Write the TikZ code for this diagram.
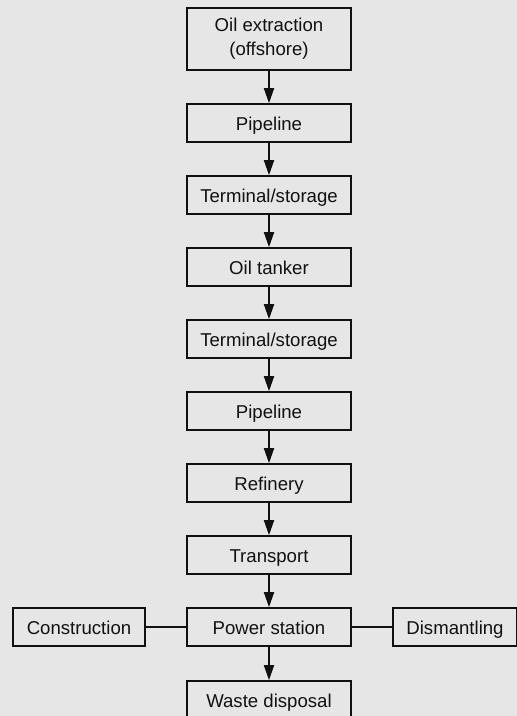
\documentclass[tikz,border=0pt]{standalone}
\usepackage{fontspec}
\setmainfont{Liberation Sans}
\usetikzlibrary{arrows.meta}
\definecolor{bg}{HTML}{E6E6E6}
\definecolor{ink}{HTML}{111111}
\begin{document}
\begin{tikzpicture}[x=1pt,y=-1pt,
  base/.style={draw=ink,line width=1.6pt,fill=bg,minimum width=164pt,minimum height=38pt,inner sep=0pt,
    font=\fontsize{18.6pt}{24pt}\selectfont,text=ink,align=center,anchor=center},
  box/.style={base,text height=17pt,text depth=3pt},
  flow/.style={draw=ink,line width=1.6pt,-{Triangle[width=10pt,length=15pt]}},
  link/.style={draw=ink,line width=1.6pt}]
\fill[bg] (0,0) rectangle (517,716);
\useasboundingbox (0,0) rectangle (517,716);
\node[base,minimum height=62pt] (ext) at (269,39) {Oil extraction\\(offshore)};
\node[box] (pipe1) at (269,123) {Pipeline};
\node[box] (term1) at (269,195) {Terminal/storage};
\node[box] (tank) at (269,267) {Oil tanker};
\node[box] (term2) at (269,339) {Terminal/storage};
\node[box] (pipe2) at (269,411) {Pipeline};
\node[box] (ref) at (269,483) {Refinery};
\node[box] (trans) at (269,555) {Transport};
\node[box] (power) at (269,627) {Power station};
\node[box] (waste) at (269,700) {Waste disposal};
\node[box,minimum width=132pt] (cons) at (79,627) {Construction};
\node[box,minimum width=124pt] (dism) at (455,627) {Dismantling};
\draw[flow] (ext) -- (pipe1);
\draw[flow] (pipe1) -- (term1);
\draw[flow] (term1) -- (tank);
\draw[flow] (tank) -- (term2);
\draw[flow] (term2) -- (pipe2);
\draw[flow] (pipe2) -- (ref);
\draw[flow] (ref) -- (trans);
\draw[flow] (trans) -- (power);
\draw[flow] (power) -- (waste);
\draw[link] (cons) -- (power);
\draw[link] (power) -- (dism);
\end{tikzpicture}
\end{document}
